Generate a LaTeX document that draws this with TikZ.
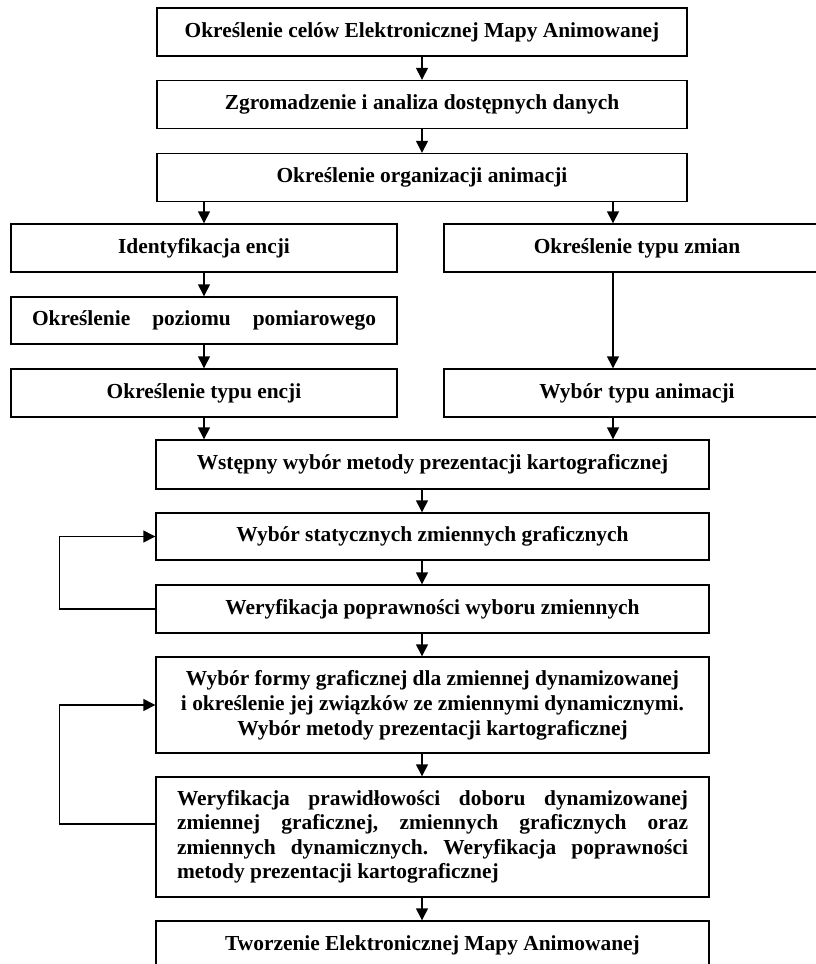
\documentclass[tikz,border=0pt]{standalone}
\usepackage{fontspec}
\setmainfont{Liberation Serif}
\usetikzlibrary{arrows.meta}
\frenchspacing
\begin{document}
\begin{tikzpicture}[x=1pt,y=-1pt]
    \tikzstyle{every node}=[rectangle, draw=black, line width=1.4pt, inner sep=0pt, font=\fontsize{21.4}{25}\selectfont\bfseries, text=black]
    \tikzstyle{top}=[minimum width=530pt, minimum height=48pt]
    \tikzstyle{side}=[minimum width=386pt, minimum height=48pt]
    \tikzstyle{main}=[minimum width=553pt, minimum height=48pt]
    \tikzstyle{edge}=[black, line width=1.4pt, -{Triangle[length=12pt,width=12pt]}]

    \useasboundingbox (0,0) rectangle (816,964);
    \clip (0,0) rectangle (816,964);

    \node[top] (cele) at (422,32) {Określenie celów Elektronicznej Mapy Animowanej};
    \node[top] (dane) at (422,104.5) {Zgromadzenie i analiza dostępnych danych};
    \node[top] (org) at (422,177.5) {Określenie organizacji animacji};

    \node[side] (ident) at (204,248) {Identyfikacja encji};
    \node[side, minimum height=47pt] (poziom) at (204,320.5) {\makebox[344pt][s]{Określenie poziomu pomiarowego}};
    \node[side] (encja) at (204,393) {Określenie typu encji};
    \node[side] (zmiany) at (637,248) {Określenie typu zmian};
    \node[side] (typanim) at (637,393) {Wybór typu animacji};
    \coordinate (rx) at (613,0);

    \node[main, minimum height=49pt] (wstep) at (432.5,464.5) {Wstępny wybór metody prezentacji kartograficznej};
    \node[main, minimum height=47pt] (stat) at (432.5,536.5) {Wybór statycznych zmiennych graficznych};
    \node[main] (wer1) at (432.5,609) {Weryfikacja poprawności wyboru zmiennych};
    \node[main, minimum height=96pt, align=center] (forma) at (432.5,705) {Wybór formy graficznej dla zmiennej dynamizowanej\\ i określenie jej związków ze zmiennymi dynamicznymi.\\ Wybór metody prezentacji kartograficznej};
    \node[main, minimum height=120pt, text width=511pt, align=justify, font=\fontsize{21.4}{24.5}\selectfont\bfseries] (wer2) at (432.5,837) {Weryfikacja prawidłowości doboru dynamizowanej\linebreak zmiennej graficznej, zmiennych graficznych oraz\linebreak zmiennych dynamicznych. Weryfikacja poprawności\linebreak metody prezentacji kartograficznej};
    \node[main] (mapa) at (432.5,945) {Tworzenie Elektronicznej Mapy Animowanej};

    \draw[edge] (cele) -- (dane);
    \draw[edge] (dane) -- (org);
    \draw[edge] (org.south -| ident) -- (ident);
    \draw[edge] (org.south -| rx) -- (zmiany.north -| rx);
    \draw[edge] (ident) -- (poziom);
    \draw[edge] (poziom) -- (encja);
    \draw[edge] (zmiany.south -| rx) -- (typanim.north -| rx);
    \draw[edge] (encja) -- (wstep.north -| encja);
    \draw[edge] (typanim.south -| rx) -- (wstep.north -| rx);
    \draw[edge] (wstep.south -| cele) -- (stat.north -| cele);
    \draw[edge] (stat.south -| cele) -- (wer1.north -| cele);
    \draw[edge] (wer1.south -| cele) -- (forma.north -| cele);
    \draw[edge] (forma.south -| cele) -- (wer2.north -| cele);
    \draw[edge] (wer2.south -| cele) -- (mapa.north -| cele);

    \draw[edge] (wer1.west) -- ++(-96,0) |- (stat.west);
    \draw[edge] ([yshift=13pt]wer2.west) -- ++(-96,0) |- (forma.west);
\end{tikzpicture}
\end{document}
